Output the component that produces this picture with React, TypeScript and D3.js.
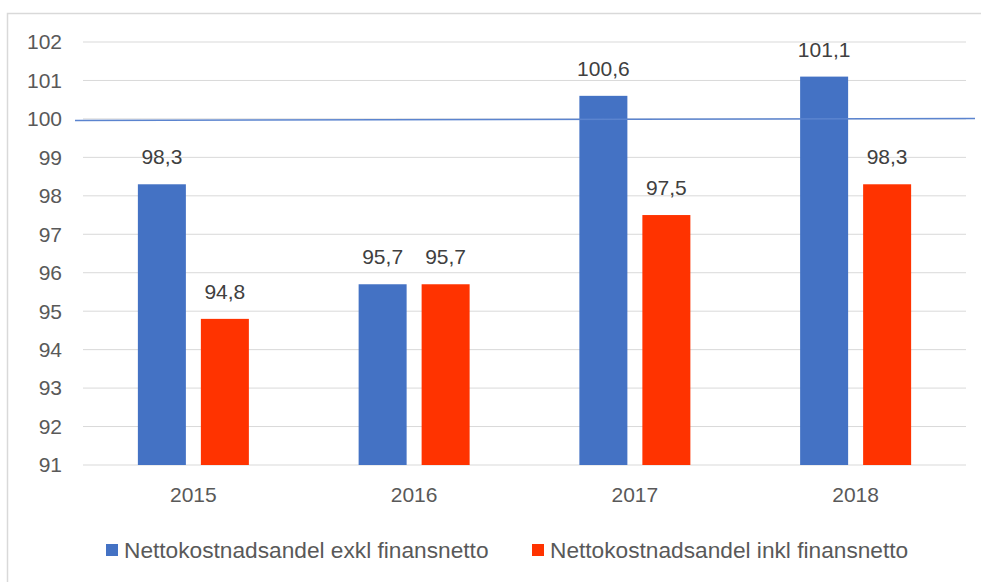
import React from 'react';
import * as d3 from 'd3';

const years = ['2015', '2016', '2017', '2018'];
const seriesNames = ['Nettokostnadsandel exkl finansnetto', 'Nettokostnadsandel inkl finansnetto'];
const exklValues = [98.3, 95.7, 100.6, 101.1];
const inklValues = [94.8, 95.7, 97.5, 98.3];
const yTicks = [91, 92, 93, 94, 95, 96, 97, 98, 99, 100, 101, 102];
const referenceValue = 100;
const colors = ['#4472C4', '#FF3300'];

const width = 981;
const height = 582;
const fontFamily = 'Liberation Sans, Arial, sans-serif';
const fontSize = 21;

const App = () => {
  const plotLeft = 83;
  const plotRight = 966;
  const x0 = d3.scaleBand().domain(years).range([plotLeft, plotRight]);
  const groupWidth = 111;
  const x1 = d3.scaleBand().domain(seriesNames).range([0, groupWidth]).paddingInner(0.238);
  const y = d3.scaleLinear().domain([91, 102]).range([465, 42]);
  const values = [exklValues, inklValues];
  const fmt = (v: number) => v.toFixed(1).replace('.', ',');

  return (
    <svg width={width} height={height} style={{ position: 'absolute', left: 0, top: 0 }}>
      <rect x={0} y={0} width={width} height={height} fill="#fff" />
      <rect x={7.5} y={13.5} width={1000} height={700} fill="#fff" stroke="#D9D9D9" strokeWidth={1.5} />
      {yTicks.map(t => (
        <g key={t}>
          <line x1={plotLeft} x2={plotRight} y1={y(t)} y2={y(t)} stroke="#D9D9D9" strokeWidth={1} />
          <text x={62} y={y(t)} dy="0.35em" textAnchor="end" fontFamily={fontFamily} fontSize={fontSize} fill="#595959">{t}</text>
        </g>
      ))}
      {years.map((yr, i) => {
        const gx = (x0(yr) as number) + (x0.bandwidth() - groupWidth) / 2;
        return (
          <g key={yr}>
            {seriesNames.map((s, j) => {
              const v = values[j][i];
              const bx = gx + (x1(s) as number);
              return (
                <g key={s}>
                  <rect x={bx} y={y(v)} width={x1.bandwidth()} height={y(91) - y(v)} fill={colors[j]} />
                  <text x={bx + x1.bandwidth() / 2} y={y(v) - 20} textAnchor="middle" fontFamily={fontFamily} fontSize={fontSize} fill="#404040">{fmt(v)}</text>
                </g>
              );
            })}
            <text x={(x0(yr) as number) + x0.bandwidth() / 2} y={495} dy="0.35em" textAnchor="middle" fontFamily={fontFamily} fontSize={fontSize} fill="#595959">{yr}</text>
          </g>
        );
      })}
      <line x1={75} x2={975} y1={y(referenceValue) + 1.5} y2={y(referenceValue) - 0.5} stroke="#5B84CF" strokeWidth={1.5} />
      {seriesNames.map((s, j) => {
        const lx = [106, 532][j];
        return (
          <g key={s}>
            <rect x={lx} y={544} width={12} height={12} fill={colors[j]} />
            <text x={lx + 18} y={550} dy="0.35em" fontFamily={fontFamily} fontSize={22.7} fill="#595959">{s}</text>
          </g>
        );
      })}
    </svg>
  );
};

export default App;
